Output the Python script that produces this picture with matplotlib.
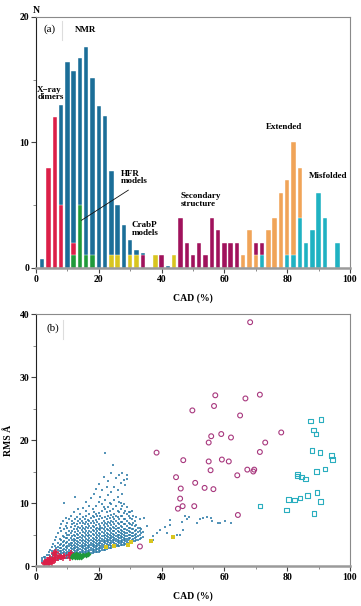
import matplotlib
matplotlib.use("Agg")
import matplotlib.pyplot as plt
from matplotlib.ticker import MultipleLocator

plt.rcParams["font.family"] = ["Liberation Serif", "DejaVu Serif"]

# --- panel (a): CAD histograms (bin centre -> N) ---
nmr_bins = [2, 8, 10, 12, 14, 16, 18, 20, 22, 24, 26, 28, 30, 32, 34, 42, 44, 48, 54, 58]
nmr_n = [0.7, 13.0, 16.4, 15.7, 16.7, 17.6, 15.1, 12.9, 12.1, 7.7, 5.0, 3.4, 2.2, 1.4, 1.2,
         0.15, 0.15, 0.15, 0.15, 0.15]
xray_bins = [4, 6, 8, 12]
xray_n = [8, 12, 5, 2]
hfr_bins = [12, 14, 16, 18]
hfr_n = [1, 5, 1, 1]
crabp_bins = [24, 26, 30, 32, 38, 44]
crabp_n = [1, 1, 1, 1, 1, 1]
sec_bins = [34, 40, 46, 48, 50, 52, 54, 56, 58, 60, 62, 64, 70, 72]
sec_n = [1, 1, 4, 2, 1, 2, 1, 4, 3, 2, 2, 2, 2, 2]
ext_bins = [66, 68, 70, 74, 76, 78, 80, 82, 84]
ext_n = [1, 3, 1, 3, 4, 6, 7, 10, 8]
mis_bins = [72, 80, 82, 84, 86, 88, 90, 92, 96]
mis_n = [1, 1, 1, 4, 2, 3, 6, 4, 2]

# --- panel (b): RMS vs CAD ---
# NMR cloud: (CAD, [RMS values read at that CAD])
nmr_cloud = [
    (2, [0.6, 0.9, 1.2]), (2.5, [0.7, 1.4]), (3, [0.5, 0.8, 1.1, 1.5]),
    (3.5, [0.7, 1.0, 1.8]), (4, [0.6, 0.9, 1.3, 1.7, 2.2]), (4.5, [0.8, 1.1, 1.5, 2.6]),
    (5, [0.8, 1.0, 1.4, 1.9, 2.4, 3.0]), (5.5, [0.9, 1.2, 1.7, 2.1, 3.5]),
    (6, [0.9, 1.2, 1.5, 2.0, 2.6, 3.2, 4.1]), (6.5, [1.0, 1.4, 1.8, 2.3, 2.9, 4.6]),
    (7, [1.0, 1.3, 1.6, 2.1, 2.5, 3.0, 3.7, 5.2]), (7.5, [1.1, 1.5, 1.9, 2.4, 2.8, 3.4, 4.3, 6.0]),
    (8, [1.1, 1.4, 1.7, 2.0, 2.4, 2.9, 3.5, 4.2, 5.5, 6.6]),
    (8.5, [1.2, 1.6, 2.0, 2.5, 3.1, 3.8, 4.8, 7.2]),
    (9, [1.2, 1.5, 1.8, 2.2, 2.7, 3.3, 3.9, 4.6, 5.8, 10.0]),
    (9.5, [1.3, 1.7, 2.1, 2.6, 3.0, 3.6, 4.4, 5.2, 6.3, 7.6]),
    (10, [1.3, 1.6, 1.9, 2.3, 2.8, 3.2, 3.8, 4.5, 5.0, 6.0, 6.9]),
    (10.5, [1.4, 1.8, 2.2, 2.6, 3.1, 3.5, 4.2, 4.9, 5.6, 7.4]),
    (11, [1.4, 1.7, 2.0, 2.4, 2.9, 3.3, 3.7, 4.4, 5.2, 6.2, 8.0]),
    (11.5, [1.5, 1.9, 2.3, 2.7, 3.1, 3.6, 4.1, 4.7, 5.5, 6.6, 7.2]),
    (12, [1.5, 1.8, 2.1, 2.5, 2.9, 3.4, 3.9, 4.3, 5.0, 5.8, 6.9, 8.5]),
    (12.5, [1.6, 2.0, 2.4, 2.8, 3.2, 3.7, 4.2, 4.8, 5.4, 6.3, 7.5, 11.0]),
    (13, [1.6, 1.9, 2.2, 2.6, 3.0, 3.5, 4.0, 4.5, 5.1, 5.9, 6.7, 7.8]),
    (13.5, [1.7, 2.1, 2.5, 2.9, 3.3, 3.8, 4.4, 4.9, 5.6, 6.2, 7.1, 9.0]),
    (14, [1.7, 2.0, 2.3, 2.7, 3.1, 3.6, 4.1, 4.6, 5.3, 6.0, 6.8, 7.5, 8.3]),
    (14.5, [1.8, 2.2, 2.6, 3.0, 3.4, 3.9, 4.5, 5.0, 5.7, 6.4, 7.2]),
    (15, [1.8, 2.1, 2.4, 2.8, 3.2, 3.7, 4.2, 4.8, 5.4, 6.1, 6.9, 7.7, 9.2]),
    (15.5, [1.9, 2.3, 2.7, 3.1, 3.5, 4.0, 4.6, 5.2, 5.9, 6.6, 7.4]),
    (16, [1.9, 2.2, 2.5, 2.9, 3.3, 3.8, 4.3, 4.9, 5.5, 6.2, 7.0, 7.9, 8.8, 10.1]),
    (16.5, [2.0, 2.4, 2.8, 3.2, 3.6, 4.1, 4.7, 5.3, 6.0, 6.7, 7.3]),
    (17, [2.0, 2.3, 2.6, 3.0, 3.4, 3.9, 4.4, 5.0, 5.6, 6.3, 7.1, 8.2, 9.5]),
    (17.5, [2.1, 2.5, 2.9, 3.3, 3.7, 4.2, 4.8, 5.4, 6.1, 6.8, 7.6, 10.8]),
    (18, [2.1, 2.4, 2.7, 3.1, 3.5, 4.0, 4.5, 5.1, 5.7, 6.4, 7.2, 8.0, 9.0]),
    (18.5, [2.2, 2.6, 3.0, 3.4, 3.8, 4.3, 4.9, 5.5, 6.2, 6.9, 7.7, 8.6, 11.5]),
    (19, [2.2, 2.5, 2.8, 3.2, 3.6, 4.1, 4.6, 5.2, 5.8, 6.5, 7.3, 8.3, 9.6, 12.3]),
    (19.5, [2.3, 2.7, 3.1, 3.5, 3.9, 4.4, 5.0, 5.6, 6.0, 7.0, 7.9]),
    (20, [2.3, 2.6, 2.9, 3.3, 3.7, 4.2, 4.7, 5.3, 5.9, 6.6, 7.4, 8.4, 10.2, 13.0]),
    (20.5, [2.4, 2.8, 3.2, 3.6, 4.0, 4.5, 5.1, 5.7, 6.3, 6.1, 8.0, 11.0]),
    (21, [2.5, 2.8, 3.1, 3.5, 3.9, 4.3, 4.8, 5.4, 6.0, 6.8, 7.6, 8.8, 9.8, 12.0]),
    (21.5, [2.6, 3.0, 3.4, 3.8, 4.2, 4.7, 5.2, 5.8, 6.5, 7.2, 9.3, 14.2]),
    (22, [2.6, 2.9, 3.2, 3.6, 4.0, 4.4, 4.9, 5.5, 6.2, 6.9, 7.7, 9.0, 10.5, 18.0]),
    (22.5, [2.7, 3.1, 3.5, 3.9, 4.3, 4.8, 5.3, 5.9, 6.6, 7.4, 8.5, 12.5]),
    (23, [2.8, 3.1, 3.4, 3.8, 4.2, 4.6, 5.1, 5.7, 6.3, 7.0, 7.9, 9.4, 11.2, 13.5]),
    (23.5, [2.9, 3.3, 3.7, 4.1, 4.5, 5.0, 5.5, 6.1, 6.8, 7.6, 8.7, 10.0]),
    (24, [2.9, 3.2, 3.6, 4.0, 4.4, 4.8, 5.3, 5.9, 6.5, 7.2, 8.1, 9.8, 11.8, 14.8]),
    (24.5, [3.0, 3.4, 3.8, 4.2, 4.6, 5.1, 5.6, 6.2, 7.0, 7.8, 9.0, 16.0]),
    (25, [3.0, 3.3, 3.7, 4.1, 4.5, 5.0, 5.5, 6.0, 6.7, 7.5, 8.3, 10.4, 12.6]),
    (25.5, [3.1, 3.5, 3.9, 4.3, 4.7, 5.2, 5.8, 6.4, 7.2, 8.0, 9.5, 13.9]),
    (26, [3.1, 3.4, 3.8, 4.2, 4.6, 5.0, 5.5, 6.1, 6.8, 7.7, 8.8, 11.0, 12.0]),
    (26.5, [3.2, 3.6, 4.0, 4.4, 4.9, 5.4, 6.0, 6.7, 7.5, 8.6, 10.2, 14.5]),
    (27, [3.3, 3.6, 4.0, 4.4, 4.8, 5.2, 5.7, 6.3, 7.0, 7.9, 9.1, 10.0, 13.2]),
    (27.5, [3.4, 3.8, 4.2, 4.6, 5.1, 5.6, 6.2, 7.0, 8.0, 9.6, 11.5, 14.7]),
    (28, [3.4, 3.7, 4.1, 4.5, 4.9, 5.4, 5.9, 6.6, 7.4, 8.4, 9.9, 13.6]),
    (28.5, [3.5, 3.9, 4.3, 4.8, 5.3, 5.9, 6.6, 7.5, 8.7, 12.8]),
    (29, [3.6, 3.9, 4.3, 4.7, 5.2, 5.7, 6.3, 7.1, 8.2, 9.3, 13.8, 14.4]),
    (29.5, [3.7, 4.1, 4.5, 5.0, 5.5, 6.1, 6.9, 7.9, 8.5]),
    (30, [3.7, 4.0, 4.4, 4.9, 5.4, 6.0, 6.7, 7.6, 8.6]),
    (30.5, [3.8, 4.2, 4.7, 5.2, 5.8, 6.5, 7.4, 8.8]),
    (31, [3.9, 4.3, 4.8, 5.3, 5.9, 6.8, 8.0]),
    (31.5, [4.0, 4.5, 5.0, 5.6, 6.3, 7.2]),
    (32, [4.1, 4.6, 5.1, 5.7, 6.5, 7.7]),
    (32.5, [4.2, 4.8, 5.4, 6.1]),
    (33, [4.3, 4.9, 5.6, 6.0, 7.5]),
    (33.5, [4.5, 5.2, 5.8]),
    (34, [4.6, 5.4]),
]
nmr_tail_x = [34.5, 35.5, 37.4, 37.4, 38.5, 39.5, 41.1, 41.6, 42.7, 42.7, 44.8, 45.9, 46.4,
              46.9, 47.5, 48.0, 48.8, 51.2, 52.2, 53.3, 54.4, 55.8, 56.0, 58.1, 58.6, 60.2, 62.2]
nmr_tail_y = [7.6, 6.4, 4.8, 4.1, 5.3, 5.7, 6.2, 5.2, 7.3, 6.5, 4.9, 4.9, 7.0,
              5.7, 7.9, 7.5, 7.8, 6.9, 7.4, 7.6, 7.8, 7.6, 7.2, 6.8, 6.9, 7.2, 6.8]

xray_x = [2.5, 3.0, 3.2, 3.5, 3.6, 3.8, 4.0, 4.2, 4.4, 4.5, 4.8, 5.0, 5.3, 5.5, 5.7, 6.0, 6.0,
          6.2, 6.5, 7.0, 7.4, 8.0, 8.5, 9.0, 10.6, 10.9, 11.0]
xray_y = [0.5, 0.3, 0.7, 0.4, 1.0, 0.9, 0.5, 0.3, 1.2, 0.7, 1.0, 0.5, 0.8, 1.1, 2.0, 0.9, 1.7,
          1.3, 2.3, 1.2, 1.6, 1.4, 1.2, 1.6, 1.7, 1.3, 2.0]
hfr_x = [11.5, 11.8, 12.0, 12.3, 12.6, 12.8, 13.0, 13.3, 13.5, 13.7, 14.0, 14.2, 14.6, 15.0, 16.0, 16.5]
hfr_y = [1.5, 1.8, 1.6, 1.4, 1.7, 1.9, 1.5, 1.6, 1.8, 1.5, 1.7, 1.5, 1.6, 1.7, 1.8, 1.9]
crabp_x = [22.3, 24.9, 29.3, 30.3, 36.6, 43.7]
crabp_y = [3.0, 3.1, 3.3, 3.8, 4.0, 4.6]
sec_x = [38.4, 46.9, 44.6, 46.1, 45.9, 46.7, 45.2, 50.4, 50.7, 53.7, 56.5, 55.6, 55.0, 59.2,
         61.4, 55.0, 55.8, 59.0, 62.1, 64.1, 67.3, 69.2, 69.5, 71.3, 73.0, 64.3, 33.1, 78.1,
         68.2, 57.1, 66.7, 71.3, 56.7, 49.8, 65.0]
sec_y = [18.0, 16.8, 14.1, 12.3, 10.7, 9.5, 9.1, 9.5, 13.2, 12.4, 12.2, 15.2, 16.6, 16.9,
         16.6, 19.6, 20.6, 20.95, 20.4, 14.4, 15.3, 15.0, 15.3, 18.1, 19.6, 8.1, 3.1, 21.2,
         38.7, 27.1, 26.6, 27.2, 25.4, 24.7, 23.9]
mis_x = [87.5, 90.8, 88.4, 89.2, 87.9, 90.4, 94.2, 94.5, 89.4, 92.0, 83.3, 83.3, 84.6, 85.9,
         89.5, 86.5, 84.1, 82.4, 80.4, 90.7, 79.8, 88.5, 71.3]
mis_y = [23.0, 23.3, 21.6, 20.95, 18.3, 18.0, 17.5, 16.9, 15.0, 15.4, 14.6, 14.3, 14.1, 13.8,
         11.7, 11.2, 10.8, 10.5, 10.6, 10.2, 8.9, 8.3, 9.5]

BLUE = "#1b6e98"
RED = "#dc1f48"
GREEN = "#1f9a3a"
YELLOW = "#d8c51f"
PURPLE = "#a0125c"
ORANGE = "#f0a458"
CYAN = "#1fb2c2"


def style_axes(ax, ymax, ymajor):
    ax.set_xlim(0, 100)
    ax.set_ylim(0, ymax)
    for side in ("top", "right"):
        ax.spines[side].set_color("#8a8a8a")
        ax.spines[side].set_linewidth(0.8)
    ax.spines["bottom"].set_color("#9a9a9a")
    ax.spines["bottom"].set_linewidth(1.8)
    ax.spines["left"].set_color("#222222")
    ax.spines["left"].set_linewidth(0.8)
    ax.xaxis.set_major_locator(MultipleLocator(20))
    ax.xaxis.set_minor_locator(MultipleLocator(10))
    ax.yaxis.set_major_locator(MultipleLocator(ymajor))
    ax.yaxis.set_minor_locator(MultipleLocator(ymajor / 2))
    ax.tick_params(which="major", length=3.5, width=0.8, color="#444444", pad=1.5, labelsize=7)
    ax.tick_params(which="minor", length=2, width=0.6, color="#777777")
    for lab in ax.get_xticklabels() + ax.get_yticklabels():
        lab.set_fontweight("bold")
    ax.set_xlabel("CAD (%)", fontsize=7, fontweight="bold", labelpad=7)


fig = plt.figure(figsize=(3.61, 6.06), dpi=100)
ax1 = fig.add_axes([0.0997, 0.5578, 0.8698, 0.4142])
ax2 = fig.add_axes([0.0997, 0.0660, 0.8698, 0.4158])

# --- (a) overlapping histograms, later groups drawn in front ---
for bins, n, col in [(nmr_bins, nmr_n, BLUE), (xray_bins, xray_n, RED), (hfr_bins, hfr_n, GREEN),
                     (crabp_bins, crabp_n, YELLOW), (sec_bins, sec_n, PURPLE),
                     (ext_bins, ext_n, ORANGE), (mis_bins, mis_n, CYAN)]:
    ax1.bar(bins, n, width=1.4, color=col, edgecolor="white", linewidth=0.3)

style_axes(ax1, 20, 10)
ax1.set_xticks([0, 20, 40, 60, 80, 100])
ax1.set_xticklabels(["0", "20", "40", "60", "80", "100"], fontweight="bold")

txt = dict(fontsize=6.5, fontweight="bold", va="center", ha="left", linespacing=0.95)
ax1.text(4.3, 19.0, "(a)", fontsize=8, ha="center", va="center")
ax1.plot([0.083, 0.083], [0.91, 0.985], transform=ax1.transAxes, color="#dddddd", lw=0.8)
ax1.text(15.8, 19.0, "NMR", ha="center", va="center", fontsize=6.5, fontweight="bold")
ax1.text(0.4, 13.9, "X\u2212ray\ndimers", **txt)
ax1.text(27.0, 7.2, "HFR\nmodels", **txt)
ax1.plot([29.4, 14.5], [6.2, 3.8], color="#111111", lw=0.6)
ax1.text(30.5, 3.1, "CrabP\nmodels", **txt)
ax1.text(46.2, 5.4, "Secondary\nstructure", **txt)
ax1.text(73.1, 11.2, "Extended", **txt)
ax1.text(86.9, 7.3, "Misfolded", **txt)
fig.text(0.102, 0.99, "N", fontsize=7, fontweight="bold", ha="center", va="top")

# --- (b) scatter ---
cloud_x = [x for x, ys in nmr_cloud for _ in ys] + nmr_tail_x
cloud_y = [y for _, ys in nmr_cloud for y in ys] + nmr_tail_y
ax2.scatter(cloud_x, cloud_y, s=1.1, marker="s", color="#2a7aa6", alpha=0.8, linewidths=0)
ax2.scatter(xray_x, xray_y, s=14, marker="+", color=RED, linewidths=1.1)
ax2.scatter(hfr_x, hfr_y, s=9, marker="D", color=GREEN, linewidths=0)
ax2.scatter(crabp_x, crabp_y, s=5, marker="s", color=YELLOW, linewidths=0)
ax2.scatter(sec_x, sec_y, s=12, marker="o", facecolors="none", edgecolors="#a8387e", linewidths=0.8)
ax2.scatter(mis_x, mis_y, s=11, marker="s", facecolors="none", edgecolors="#2aaebf", linewidths=0.8)

style_axes(ax2, 40, 10)
ax2.set_xticks([0, 20, 40, 60, 80, 100])
ax2.set_xticklabels(["0", "20", "40", "60", "80", "100"], fontweight="bold")
ax2.text(5.3, 37.8, "(b)", fontsize=8, ha="center", va="center")
ax2.plot([0.085, 0.085], [0.9, 0.975], transform=ax2.transAxes, color="#dddddd", lw=0.8)
ax2.set_ylabel("RMS \u00c5", fontsize=7, fontweight="bold", labelpad=6)
ax2.yaxis.set_label_coords(-0.072, 0.5)

fig.savefig("out.png", dpi=100)
